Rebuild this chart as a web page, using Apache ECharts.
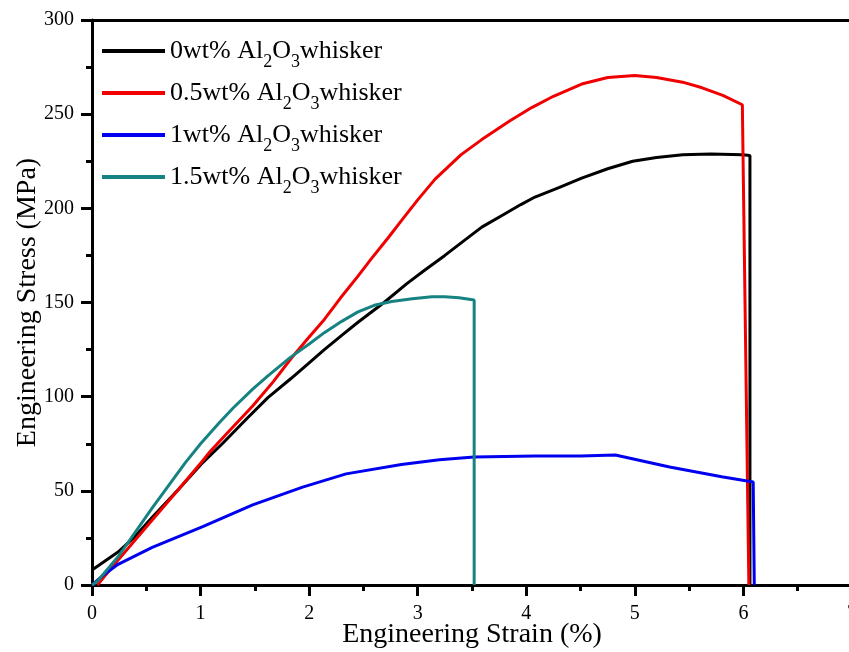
<!DOCTYPE html>
<html>
<head>
<meta charset="utf-8">
<script src="https://cdn.jsdelivr.net/npm/echarts@6/dist/echarts.min.js"></script>
<style>
  html, body { margin: 0; padding: 0; background: #fff; }
  #main { width: 849px; height: 652px; }
</style>
</head>
<body>
<div id="main"></div>
<script>
// 数据：[应变 %, 应力 MPa]
var names = ['0wt% Al2O3whisker', '0.5wt% Al2O3whisker', '1wt% Al2O3whisker', '1.5wt% Al2O3whisker'];
var colors = ['#000000', '#f00000', '#0000f0', '#168282'];

var curve0 = [[0,8],[0.1,12],[0.24,17.5],[0.4,26],[0.555,36],[0.8,51],[1.02,65],[1.2,75],[1.42,88],[1.62,99.5],
  [1.83,109.5],[2.0,118],[2.14,125],[2.3,132.5],[2.45,139.5],[2.69,150],[2.9,160],[3.06,167],[3.25,175],[3.43,183],
  [3.59,190],[3.8,197],[3.95,202],[4.08,206],[4.3,211],[4.51,216],[4.75,221],[4.98,225],[5.2,227],[5.44,228.4],
  [5.7,228.8],[5.99,228.4],[6.06,228],[6.06,0]];
var curve05 = [[0.05,0],[0.185,9.5],[0.555,34.5],[0.8,51],[1.02,66],[1.09,71],[1.3,84],[1.48,95],[1.67,108],
  [1.83,120],[1.99,131],[2.14,141],[2.29,152.5],[2.45,164],[2.57,173],[2.73,184.5],[2.85,193.5],[3.0,204.5],
  [3.16,215.5],[3.4,228.5],[3.59,236.5],[3.68,240],[3.85,246.5],[4.05,253.5],[4.25,259.5],[4.51,266],[4.75,269.5],
  [5.0,270.5],[5.2,269.5],[5.44,267],[5.62,264],[5.81,260],[5.99,255],[6.05,0]];
var curve1 = [[0,0],[0.1,5],[0.24,11],[0.555,20],[1.02,31],[1.48,42.5],[1.94,52],[2.34,59],[2.85,64],[3.2,66.5],
  [3.52,68],[4.08,68.5],[4.5,68.5],[4.82,69],[5.32,62.7],[5.8,57.5],[6.09,54.7],[6.1,0]];
var curve15 = [[0,0],[0.05,2],[0.24,15],[0.555,41],[0.86,65],[1.0,75],[1.17,86],[1.3,94],[1.48,104],[1.62,111],
  [1.83,121],[2.0,128],[2.14,134],[2.3,140],[2.45,145],[2.6,148.5],[2.76,150.5],[2.95,152],[3.13,153],[3.25,153],
  [3.38,152.5],[3.52,151.3],[3.52,0]];
var curves = [curve0, curve05, curve1, curve15];

var font = 'Liberation Serif';

var chart = echarts.init(document.getElementById('main'));

var series = [];
for (var i = 0; i < curves.length; i++) {
  series.push({
    name: names[i],
    type: 'line',
    data: curves[i],
    showSymbol: false,
    symbol: 'none',
    lineStyle: { color: colors[i], width: 3 },
    itemStyle: { color: colors[i] }
  });
}

var option = {
  animation: false,
  backgroundColor: '#fff',
  grid: { left: 92, top: 20, right: -3, bottom: 67, outerBoundsMode: 'none', containLabel: false },
  legend: {
    orient: 'vertical',
    left: 102,
    top: 38,
    padding: 0,
    itemGap: 9,
    itemWidth: 63,
    itemHeight: 4,
    icon: 'rect',
    data: names,
    formatter: function (name) {
      var parts = name.split('Al2O3');
      return '{n|' + parts[0] + 'Al}{s|2}{n|O}{s|3}{n|' + parts[1] + '}';
    },
    textStyle: {
      color: '#000',
      rich: {
        n: { fontFamily: font, fontSize: 26, color: '#000' },
        s: { fontFamily: font, fontSize: 18, color: '#000', padding: [22, 0, 0, 0] }
      }
    }
  },
  xAxis: [{
    type: 'value',
    min: 0, max: 7, interval: 1,
    name: 'Engineering Strain (%)',
    nameLocation: 'middle',
    nameGap: 36,
    nameMoveOverlap: false,
    nameTextStyle: { fontFamily: font, fontSize: 28, color: '#000' },
    axisLine: { onZero: false, lineStyle: { color: '#000', width: 3 } },
    axisTick: { show: true, inside: false, length: 11, lineStyle: { width: 3, color: '#000' } },
    minorTick: { show: true, splitNumber: 2, length: 6, lineStyle: { width: 3, color: '#000' } },
    axisLabel: { fontFamily: font, fontSize: 20, color: '#000', margin: 19, showMaxLabel: true },
    splitLine: { show: false }
  }, {
    type: 'value',
    position: 'top',
    min: 0, max: 7,
    axisLine: { show: true, onZero: false, lineStyle: { color: '#000', width: 3 } },
    axisTick: { show: false },
    axisLabel: { show: false },
    splitLine: { show: false }
  }],
  yAxis: [{
    type: 'value',
    min: 0, max: 300, interval: 50,
    name: 'Engineering Stress (MPa)',
    nameLocation: 'middle',
    nameGap: 50,
    nameMoveOverlap: false,
    nameTextStyle: { fontFamily: font, fontSize: 28, color: '#000' },
    axisLine: { show: true, onZero: false, lineStyle: { color: '#000', width: 3 } },
    axisTick: { show: true, inside: false, length: 11, lineStyle: { width: 3, color: '#000' } },
    minorTick: { show: true, splitNumber: 2, length: 6, lineStyle: { width: 3, color: '#000' } },
    axisLabel: { fontFamily: font, fontSize: 20, color: '#000', margin: 18 },
    splitLine: { show: false }
  }],
  series: series
};

chart.setOption(option);
</script>
</body>
</html>
